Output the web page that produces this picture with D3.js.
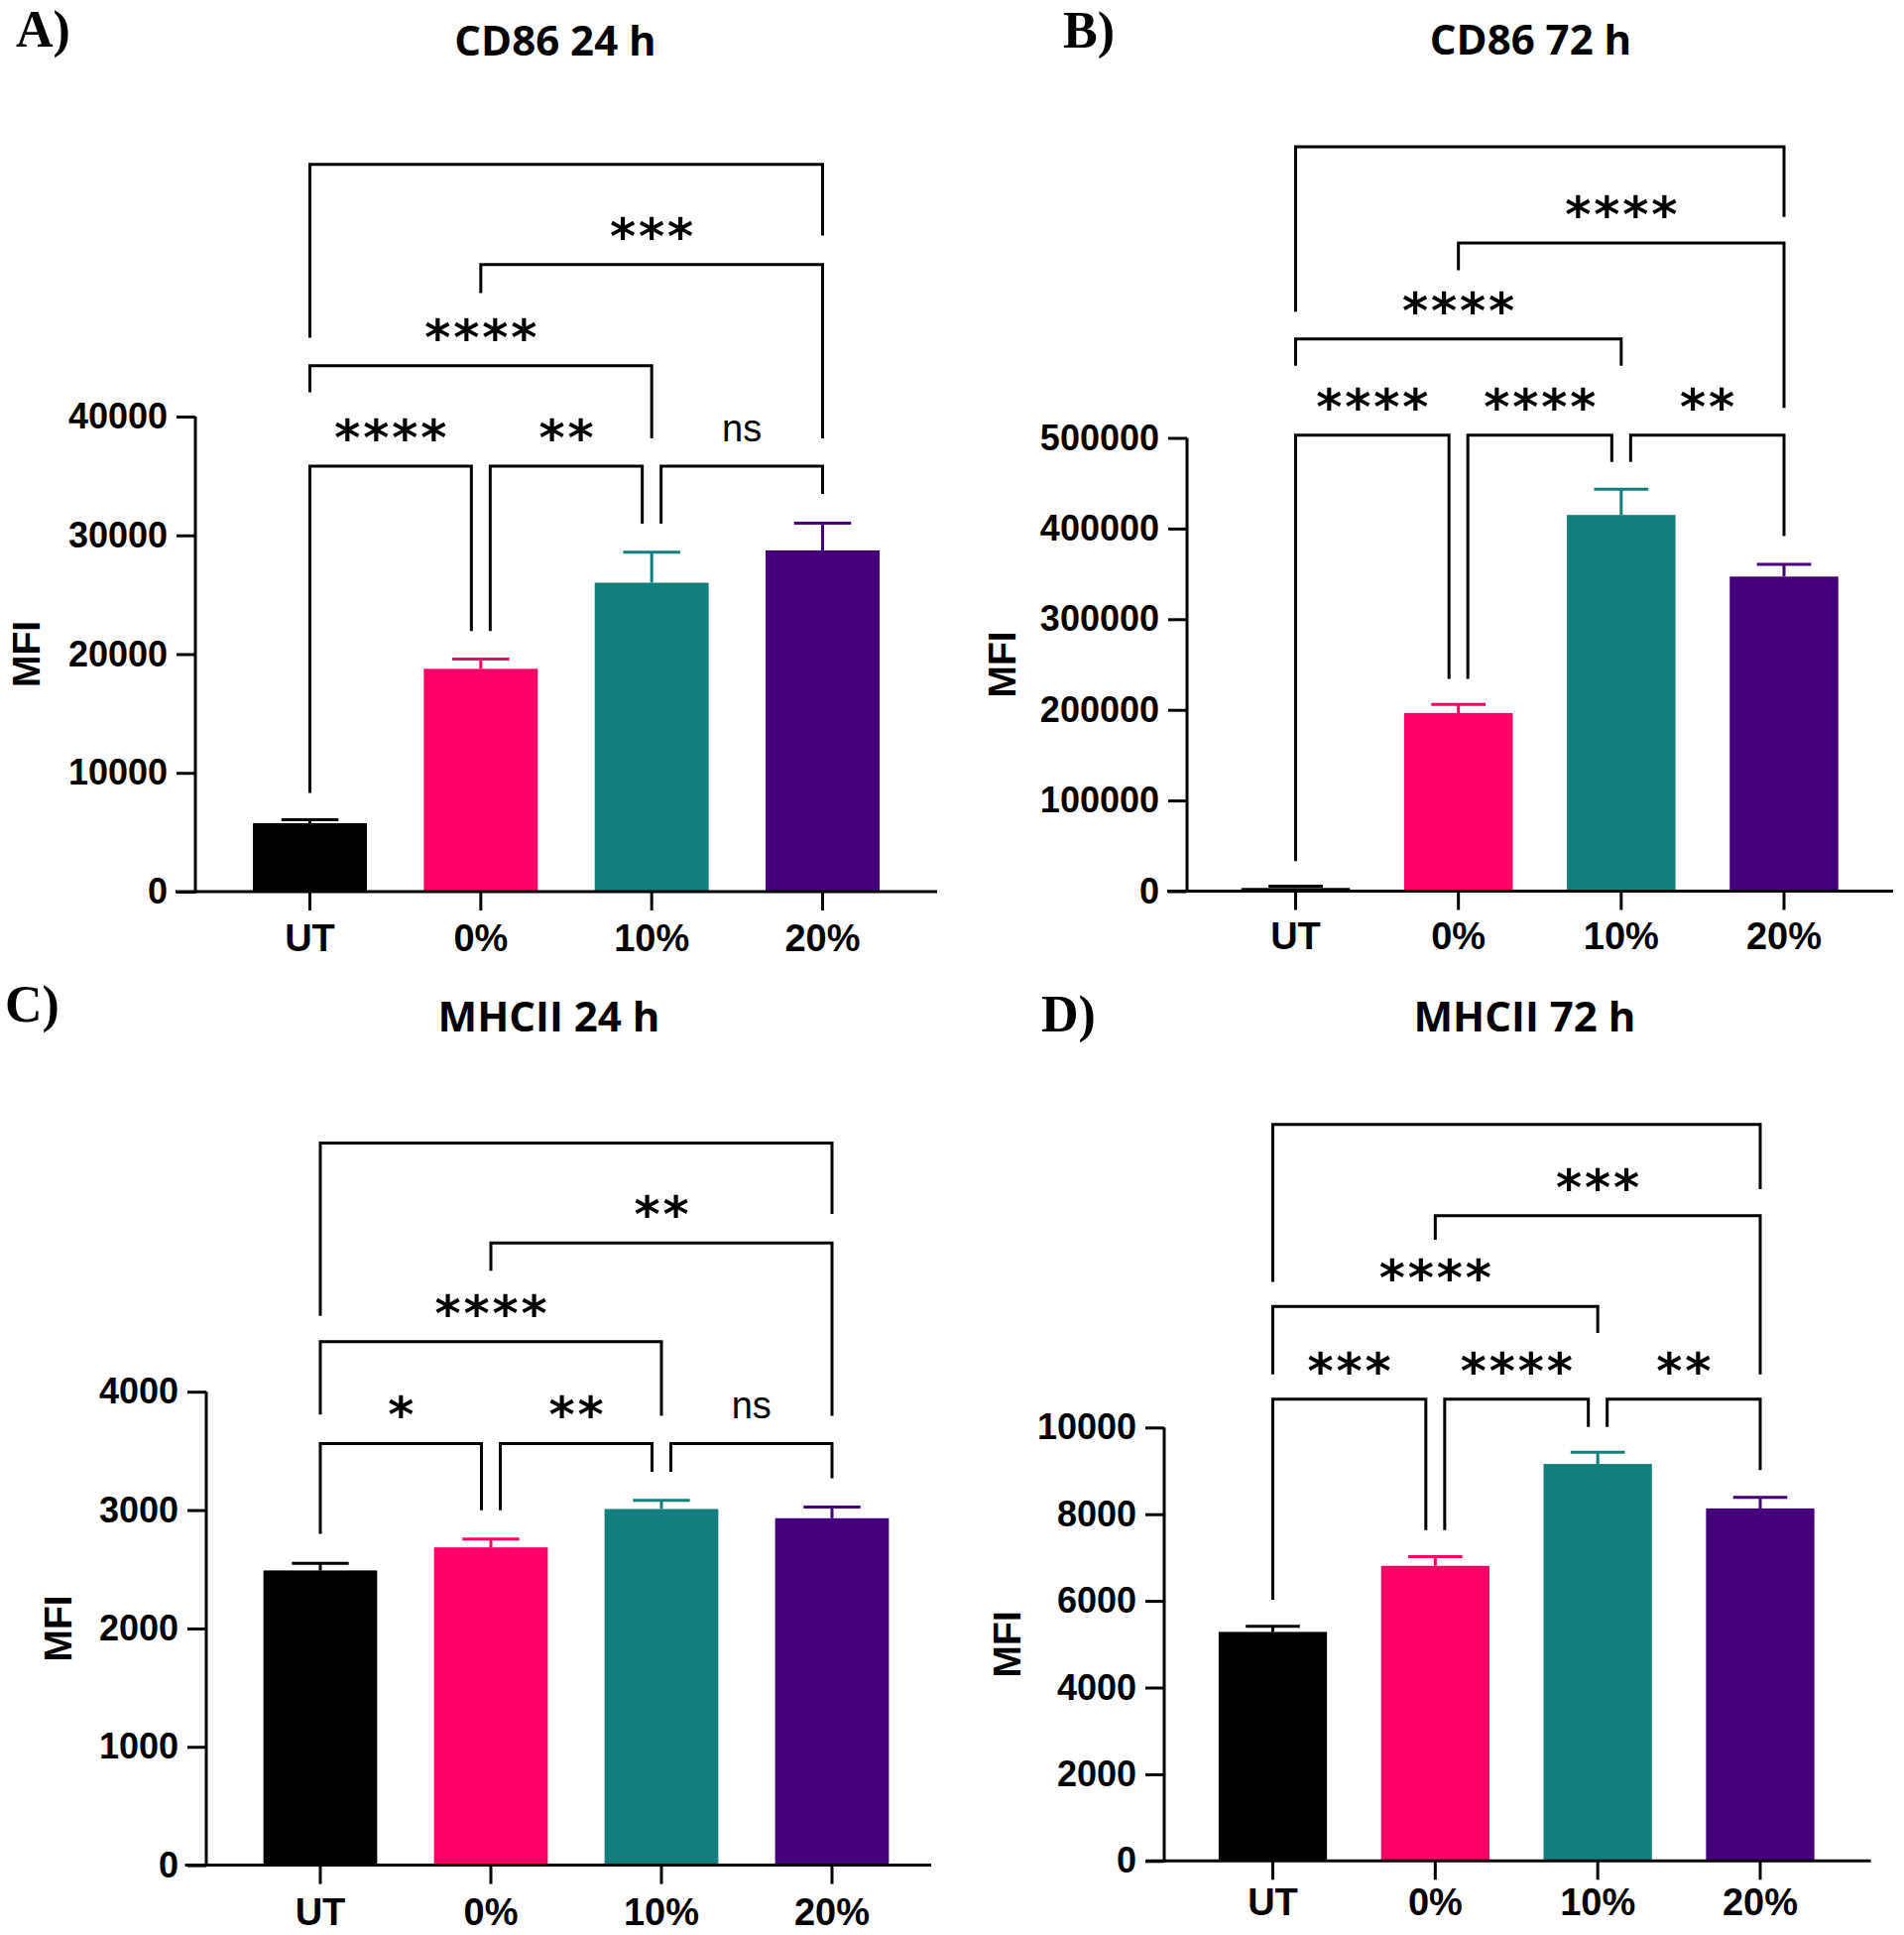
<!DOCTYPE html>
<html><head><meta charset="utf-8">
<script src="https://cdn.jsdelivr.net/npm/d3@7"></script>
<style>body{margin:0;background:#fff} svg{display:block}</style>
</head><body>
<svg id="chart" width="1920" height="1951"></svg>
<script>
// ---------------- DATA ----------------
const categories = ["UT", "0%", "10%", "20%"];
const barColors = ["#000000", "#FF0066", "#127F7E", "#43007A"];

// A) CD86 24 h
const cd86_24h_mean   = [5760, 18760, 26010, 28730];
const cd86_24h_errTop = [6050, 19590, 28570, 31020];
const cd86_24h_ticks  = [0, 10000, 20000, 30000, 40000];
// [from, to, label, bracket level, left leg end, right leg end] (in MFI units)
const cd86_24h_brackets = [
  [0, 1, "****", 35830, 8300, 21940],
  [1, 2, "**",   35830, 21940, 30980],
  [2, 3, "ns",   35830, 30980, 33490],
  [0, 2, "****", 44280, 42040, 38170],
  [1, 3, "***",  52790, 50390, 38170],
  [0, 3, "",     61240, 46630, 55240]
];

// B) CD86 72 h
const cd86_72h_mean   = [3500, 196500, 415000, 347000];
const cd86_72h_errTop = [5500, 206000, 443500, 360500];
const cd86_72h_ticks  = [0, 100000, 200000, 300000, 400000, 500000];
const cd86_72h_brackets = [
  [0, 1, "****", 503000, 33000, 234250],
  [1, 2, "****", 503000, 234250, 473600],
  [2, 3, "**",   503000, 473600, 391600],
  [0, 2, "****", 609000, 579600, 579600],
  [1, 3, "****", 715000, 684900, 533100],
  [0, 3, "",     821000, 639100, 743700]
];

// C) MHCII 24 h
const mhcii_24h_mean   = [2490, 2685, 3009, 2931];
const mhcii_24h_errTop = [2550, 2755, 3082, 3025];
const mhcii_24h_ticks  = [0, 1000, 2000, 3000, 4000];
const mhcii_24h_brackets = [
  [0, 1, "*",    3562, 2800, 2999],
  [1, 2, "**",   3562, 2999, 3322],
  [2, 3, "ns",   3562, 3322, 3269],
  [0, 2, "****", 4422, 3806, 3796],
  [1, 3, "**",   5257, 5022, 3796],
  [0, 3, "",     6101, 4641, 5501]
];

// D) MHCII 72 h
const mhcii_72h_mean   = [5284, 6808, 9158, 8133];
const mhcii_72h_errTop = [5412, 7023, 9430, 8389];
const mhcii_72h_ticks  = [0, 2000, 4000, 6000, 8000, 10000];
const mhcii_72h_brackets = [
  [0, 1, "***",  10654, 6025, 7634],
  [1, 2, "****", 10654, 7634, 10014],
  [2, 3, "**",   10654, 10014, 9016],
  [0, 2, "****", 12792, 11224, 12179],
  [1, 3, "***",  14886, 14330, 11224],
  [0, 3, "",     16993, 13362, 15497]
];

const panelLetters = ["A)", "B)", "C)", "D)"];
const panelTitles = ["CD86 24 h", "CD86 72 h", "MHCII 24 h", "MHCII 72 h"];
const yAxisTitle = "MFI";

// ---------------- LAYOUT ----------------
const layouts = [
  {letter:[16,47],    title:[560,56],      axisX:197,  xAxis:[177,945],      y0:899,    yTop:420,    c:[312.5,829.5], mfiX:40,   xlab:60},
  {letter:[1072,48],  title:[1543.5,55],   axisX:1197, xAxis:[1177,1909],    y0:898.5,  yTop:441.5,  c:[1306.5,1799], mfiX:1024, xlab:58},
  {letter:[5,1030],   title:[553.5,1040],  axisX:208,  xAxis:[186.5,939],    y0:1880.6, yTop:1403.2, c:[323,839],     mfiX:72,   xlab:60},
  {letter:[1050,1040],title:[1537.4,1040], axisX:1174, xAxis:[1155.7,1886.6],y0:1876.3, yTop:1439.3, c:[1283.5,1775], mfiX:1029, xlab:55}
];

const panels = [
  {mean: cd86_24h_mean, err: cd86_24h_errTop, ticks: cd86_24h_ticks, brackets: cd86_24h_brackets},
  {mean: cd86_72h_mean, err: cd86_72h_errTop, ticks: cd86_72h_ticks, brackets: cd86_72h_brackets},
  {mean: mhcii_24h_mean, err: mhcii_24h_errTop, ticks: mhcii_24h_ticks, brackets: mhcii_24h_brackets},
  {mean: mhcii_72h_mean, err: mhcii_72h_errTop, ticks: mhcii_72h_ticks, brackets: mhcii_72h_brackets}
];

const svg = d3.select("#chart");
const SANS = "'Liberation Sans', Arial, sans-serif";
const LW = 3;

panels.forEach((p, pi) => {
  const L = layouts[pi];
  const g = svg.append("g");
  const step = (L.c[1] - L.c[0]) / (categories.length - 1);
  const x = d3.scaleBand().domain(categories)
      .range([L.c[0] - step / 2, L.c[1] + step / 2])
      .paddingInner(0.333).paddingOuter(0.1665);
  const yMax = p.ticks[p.ticks.length - 1];
  const y = d3.scaleLinear().domain([0, yMax]).range([L.y0, L.yTop]);
  const cx = d => x(d) + x.bandwidth() / 2;

  // panel letter
  g.append("text").attr("x", L.letter[0]).attr("y", L.letter[1])
    .attr("font-family", "'Liberation Serif', 'Times New Roman', serif")
    .attr("font-weight", "bold").attr("font-size", 52).text(panelLetters[pi]);
  // title
  g.append("text").attr("x", L.title[0]).attr("y", L.title[1])
    .attr("text-anchor", "middle").attr("font-family", "'Open Sans', sans-serif")
    .attr("font-weight", 700).attr("font-size", 42).text(panelTitles[pi]);

  // bars
  g.selectAll("rect.bar").data(categories).join("rect").attr("class", "bar")
    .attr("x", d => x(d)).attr("width", x.bandwidth())
    .attr("y", (d, i) => y(p.mean[i])).attr("height", (d, i) => y(0) - y(p.mean[i]))
    .attr("fill", (d, i) => barColors[i]);

  // error bars (upper only)
  categories.forEach((c, i) => {
    const xc = cx(c), hw = x.bandwidth() / 4;
    g.append("path")
      .attr("d", `M${xc},${y(p.mean[i])}V${y(p.err[i])}M${xc - hw},${y(p.err[i])}H${xc + hw}`)
      .attr("stroke", barColors[i]).attr("stroke-width", LW).attr("fill", "none");
  });

  // y axis
  const yAxis = d3.axisLeft(y).tickValues(p.ticks).tickFormat(d => String(d))
    .tickSize(19).tickSizeOuter(0).tickPadding(9);
  const ya = g.append("g").attr("transform", `translate(${L.axisX},0)`).call(yAxis);
  ya.select(".domain").attr("stroke-width", LW).attr("d", `M0,${L.y0 + 1.5}V${L.yTop}`);
  ya.selectAll(".tick line").attr("stroke-width", LW);
  ya.selectAll(".tick text").attr("font-family", SANS).attr("font-weight", "bold")
    .attr("font-size", 36).attr("fill", "#000");

  // x axis
  const fsX = 38;
  const xAxis = d3.axisBottom(x).tickSize(19).tickSizeOuter(0)
    .tickPadding(L.xlab - 19 - 0.71 * fsX);
  const xa = g.append("g").attr("transform", `translate(0,${L.y0})`).call(xAxis);
  xa.select(".domain").attr("stroke-width", LW)
    .attr("d", `M${L.xAxis[0]},0H${L.xAxis[1]}`);
  xa.selectAll(".tick line").attr("stroke-width", LW);
  xa.selectAll(".tick text").attr("font-family", SANS).attr("font-weight", "bold")
    .attr("font-size", fsX).attr("fill", "#000");

  // y axis title
  g.append("text")
    .attr("transform", `translate(${L.mfiX},${(L.y0 + L.yTop) / 2}) rotate(-90)`)
    .attr("text-anchor", "middle").attr("font-family", SANS).attr("font-weight", "bold")
    .attr("font-size", 39).text(yAxisTitle);

  // significance brackets
  const inset = 9.5;
  p.brackets.forEach((b, bi) => {
    const [a, c, label, lvl, legL, legR] = b;
    const sameRow = p.brackets.filter((o, oi) => oi !== bi && o[3] === lvl);
    let xl = cx(categories[a]), xr = cx(categories[c]);
    if (sameRow.some(o => o[1] === a)) xl += inset;
    if (sameRow.some(o => o[0] === c)) xr -= inset;
    const yl = y(lvl);
    g.append("path")
      .attr("d", `M${xl},${y(legL)}V${yl}H${xr}V${y(legR)}`)
      .attr("stroke", "#000").attr("stroke-width", LW).attr("fill", "none")
      .attr("stroke-linejoin", "miter");
    const mid = (xl + xr) / 2;
    if (label === "ns") {
      g.append("text").attr("x", mid).attr("y", yl - 25).attr("text-anchor", "middle")
        .attr("font-family", SANS).attr("font-size", 38).text(label);
    } else if (label) {
      const n = label.length, pitch = 29;
      for (let k = 0; k < n; k++) {
        g.append("text").attr("x", mid + (k - (n - 1) / 2) * pitch).attr("y", yl - 11)
          .attr("text-anchor", "middle").attr("font-family", "'DejaVu Sans', sans-serif")
          .attr("font-weight", "bold").attr("font-size", 50).text("*");
      }
    }
  });
});
</script>
</body></html>
